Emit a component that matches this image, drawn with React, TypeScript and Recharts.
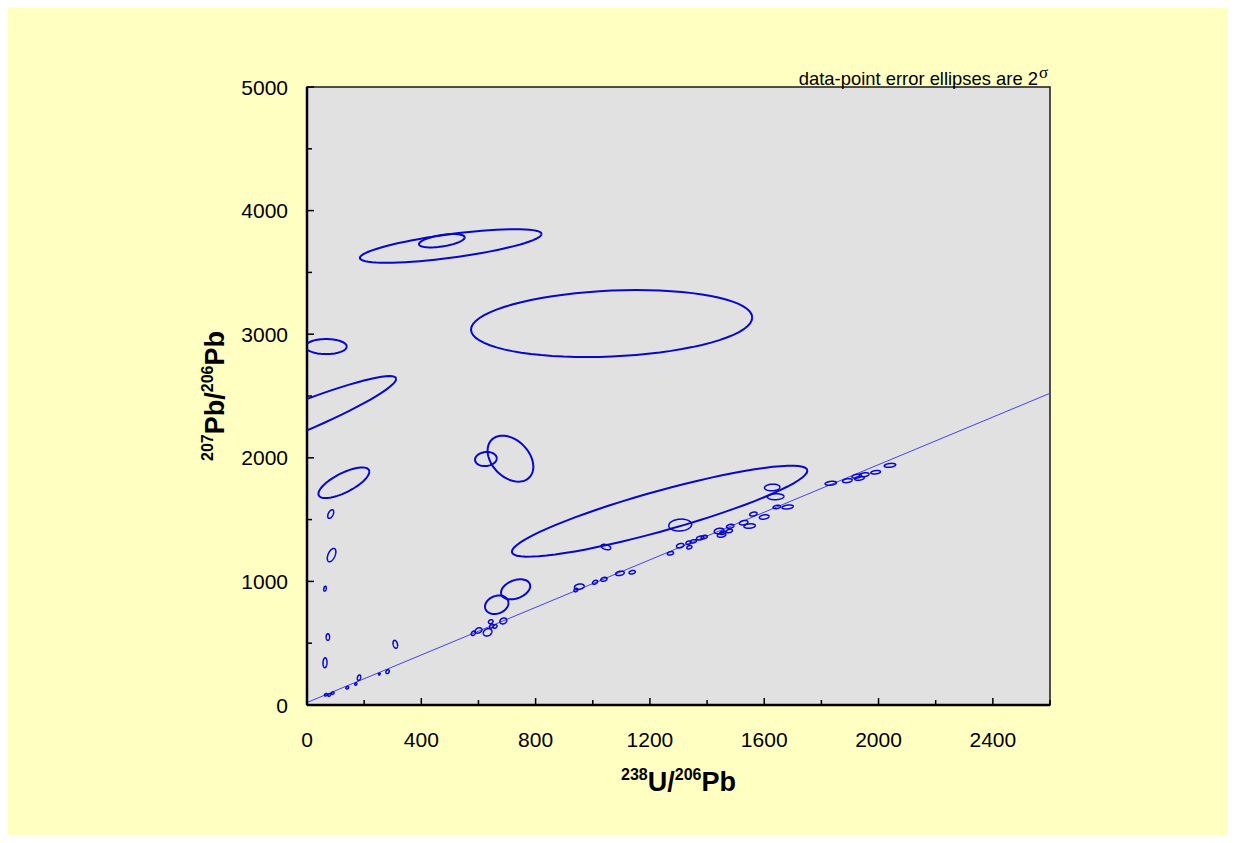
import { CartesianGrid, ComposedChart, ReferenceArea, ReferenceLine, Scatter, XAxis, YAxis } from "recharts";

// error ellipses: [x centre, y centre, 2σ x, 2σ y, error correlation]
type Ellipse = [number, number, number, number, number];

const wideEllipses: Ellipse[] = [
  [503, 3714, 318, 136, 0.71],
  [472, 3756, 80, 54, 0.5],
  [1066, 3086, 492, 271, 0.18],
  [67, 2900, 72, 61, 0.0],
  [-73, 2281, 385, 380, 0.94],
  [129, 1798, 89, 124, 0.72],
  [626, 1990, 38, 57, 0.1],
  [712, 1993, 80, 186, -0.35],
  [1234, 1568, 517, 368, 0.89],
  [664, 811, 41, 75, 0.2],
  [730, 936, 51, 81, 0.33],
];

const spotEllipses: Ellipse[] = [
  [83, 1545, 10.5, 35, 0.5],
  [86, 1213, 15, 54, 0.5],
  [63, 941, 4.5, 20, 0.3],
  [73, 550, 6, 27, 0],
  [63, 342, 7, 40, 0.1],
  [309, 491, 8, 32, -0.3],
  [66, 83, 5, 10, 0.3],
  [78, 81, 5, 10, 0.3],
  [90, 97, 5, 10, 0.3],
  [141, 140, 5, 10, 0.3],
  [171, 170, 4, 10, 0.3],
  [182, 221, 6, 22, 0.3],
  [253, 251, 3, 8, 0.3],
  [282, 270, 6, 16, 0.3],
  [582, 580, 7, 18, 0.3],
  [600, 603, 12, 22, 0.3],
  [632, 588, 15, 30, 0.2],
  [643, 674, 8, 16, 0.2],
  [646, 639, 7, 16, 0.3],
  [658, 635, 7, 14, 0.3],
  [687, 680, 12, 24, 0.2],
  [941, 930, 7, 14, 0.3],
  [953, 957, 17, 22, 0.2],
  [1008, 993, 9, 16, 0.4],
  [1039, 1017, 11, 16, 0.3],
  [1095, 1065, 15, 18, 0.3],
  [1138, 1074, 11, 14, 0.3],
  [1046, 1278, 17, 22, -0.4],
  [1272, 1227, 11, 14, 0.3],
  [1306, 1456, 40, 48, 0.1],
  [1306, 1289, 13, 18, 0.3],
  [1338, 1276, 9, 14, 0.3],
  [1335, 1313, 9, 14, 0.3],
  [1352, 1324, 11, 14, 0.3],
  [1376, 1351, 13, 16, 0.3],
  [1390, 1359, 11, 14, 0.3],
  [1442, 1408, 17, 22, 0.2],
  [1451, 1375, 15, 18, 0.3],
  [1455, 1394, 11, 14, 0.3],
  [1478, 1408, 11, 14, 0.3],
  [1481, 1446, 13, 16, 0.3],
  [1528, 1475, 15, 18, 0.3],
  [1549, 1448, 20, 18, 0.2],
  [1562, 1545, 13, 16, 0.3],
  [1600, 1521, 17, 18, 0.3],
  [1628, 1760, 27, 27, 0.1],
  [1640, 1685, 29, 24, 0.1],
  [1644, 1602, 13, 14, 0.3],
  [1682, 1602, 20, 16, 0.3],
  [1833, 1794, 20, 16, 0.3],
  [1891, 1815, 17, 16, 0.3],
  [1924, 1851, 17, 16, 0.3],
  [1933, 1834, 17, 16, 0.3],
  [1950, 1863, 17, 16, 0.3],
  [1990, 1883, 17, 14, 0.3],
  [2040, 1939, 20, 16, 0.3],
];

// regression line end points
const fitLine = [
  { x: 0, y: 20 },
  { x: 2600, y: 2522 },
];

const xTicks = [0, 200, 400, 600, 800, 1000, 1200, 1400, 1600, 1800, 2000, 2200, 2400, 2600];
const yTicks = [0, 500, 1000, 1500, 2000, 2500, 3000, 3500, 4000, 4500, 5000];

const FONT = "'Liberation Sans', Arial, sans-serif";
const BLUE = "#0707CF";

// outline of a confidence ellipse in data units
const outline = ([cx, cy, sx, sy, r]: Ellipse) => {
  const k = Math.sqrt(1 - r * r);
  return Array.from({ length: 73 }, (_, i) => {
    const t = (i / 72) * 2 * Math.PI;
    return { x: cx + sx * Math.cos(t), y: cy + sy * (r * Math.cos(t) + k * Math.sin(t)) };
  });
};

const noDot = () => <g />;

const XTick = ({ x, y, payload }: any) => {
  const v = payload.value;
  const major = v % 400 === 0;
  return (
    <g>
      <line x1={x} x2={x} y1={y} y2={y - (major ? 7 : 5)} stroke="#000" strokeWidth={1.5} />
      {major && v < 2600 && (
        <text x={x} y={y + 42} textAnchor="middle" fontSize={21} fontFamily={FONT} fill="#000">
          {v}
        </text>
      )}
    </g>
  );
};

const YTick = ({ x, y, payload }: any) => {
  const v = payload.value;
  const major = v % 1000 === 0;
  return (
    <g>
      <line x1={x} x2={x + (major ? 7 : 5)} y1={y} y2={y} stroke="#000" strokeWidth={1.5} />
      {major && (
        <text x={x - 19} y={y} dy="0.36em" textAnchor="end" fontSize={21} fontFamily={FONT} fill="#000">
          {v}
        </text>
      )}
    </g>
  );
};

const XTitle = (props: any) => {
  const vb = props.viewBox;
  return (
    <text x={vb.x + vb.width / 2} y={vb.y + 86} textAnchor="middle" fontFamily={FONT} fontWeight="bold" fontSize={27} fill="#000">
      <tspan fontSize={16} dy={-11}>238</tspan>
      <tspan dy={11}>U/</tspan>
      <tspan fontSize={16} dy={-11}>206</tspan>
      <tspan dy={11}>Pb</tspan>
    </text>
  );
};

const YTitle = (props: any) => {
  const vb = props.viewBox;
  const cx = 216;
  const cy = vb.y + vb.height / 2;
  return (
    <text x={cx} y={cy} transform={`rotate(-90 ${cx} ${cy})`} textAnchor="middle" fontFamily={FONT} fontWeight="bold" fontSize={27} fill="#000">
      <tspan fontSize={16} dy={-11}>207</tspan>
      <tspan dy={11}>Pb/</tspan>
      <tspan fontSize={16} dy={-11}>206</tspan>
      <tspan dy={11}>Pb</tspan>
    </text>
  );
};

export default function App() {
  return (
    <div style={{ position: "relative", width: 1220, height: 827, background: "#FFFFC2" }}>
      <ComposedChart width={1220} height={827} margin={{ top: 79, right: 178, bottom: 90, left: 239 }}>
        <CartesianGrid fill="#E1E1E1" fillOpacity={1} horizontal={false} vertical={false} />
        <XAxis
          type="number"
          dataKey="x"
          domain={[0, 2600]}
          ticks={xTicks}
          interval={0}
          allowDataOverflow
          height={40}
          tickSize={0}
          tickMargin={0}
          tickLine={false}
          tick={<XTick />}
          axisLine={{ stroke: "#000", strokeWidth: 2.5 }}
          label={XTitle}
        />
        <YAxis
          type="number"
          dataKey="y"
          domain={[0, 5000]}
          ticks={yTicks}
          interval={0}
          allowDataOverflow
          width={60}
          tickSize={0}
          tickMargin={0}
          tickLine={false}
          tick={<YTick />}
          axisLine={{ stroke: "#000", strokeWidth: 2.5 }}
          label={YTitle}
        />
        <ReferenceArea x1={0} x2={2600} y1={0} y2={5000} fill="none" stroke="#1a1a1a" strokeWidth={1.5} />
        <ReferenceLine segment={fitLine} stroke="#4444E8" strokeWidth={1} />
        {wideEllipses.map((e, i) => (
          <Scatter
            key={`w${i}`}
            data={outline(e)}
            line={{ stroke: BLUE, strokeWidth: 2 }}
            lineType="joint"
            shape={noDot}
            legendType="none"
            isAnimationActive={false}
          />
        ))}
        {spotEllipses.map((e, i) => (
          <Scatter
            key={`s${i}`}
            data={outline(e)}
            line={{ stroke: BLUE, strokeWidth: 1.5 }}
            lineType="joint"
            shape={noDot}
            legendType="none"
            isAnimationActive={false}
          />
        ))}
      </ComposedChart>
      <svg width={1220} height={827} style={{ position: "absolute", left: 0, top: 0, pointerEvents: "none" }}>
        <text x={1030} y={77} textAnchor="end" fontFamily={FONT} fontSize={18.4} fill="#000">
          data-point error ellipses are 2
        </text>
        <text x={1031} y={70} fontFamily="'Liberation Serif', serif" fontSize={17} fill="#000">
          σ
        </text>
      </svg>
    </div>
  );
}
